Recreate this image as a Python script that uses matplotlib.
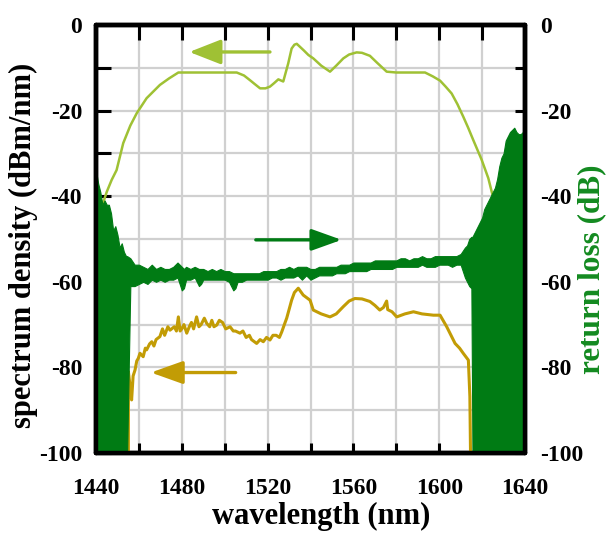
import matplotlib
matplotlib.use("Agg")
import matplotlib.pyplot as plt
import numpy as np

# ---------------- data ----------------
# upper spectrum (left axis, dBm/nm) - light green
x_hi = [1442.7, 1445, 1447.3, 1449.6, 1452.7, 1456, 1459, 1463.6, 1469.8, 1474,
        1478.4, 1485, 1495, 1505.6, 1509, 1511.8, 1514, 1516.5, 1519, 1521.1,
        1523, 1525, 1527.3, 1528.5, 1529.6, 1531.2, 1532.5, 1533.6, 1535.1, 1537,
        1539, 1541.3, 1545, 1549.1, 1552, 1555.3, 1558, 1561.5, 1564, 1567.7,
        1571, 1575.5, 1580, 1590, 1593.4, 1597, 1600.4, 1603, 1605.8, 1608.5,
        1611.2, 1613.5, 1615.9, 1619.8, 1622.9, 1625]
y_hi = [-42.5, -39, -36.2, -33.9, -27.6, -23.5, -20.6, -17.1, -14.0, -12.5,
        -11.1, -11.1, -11.1, -11.1, -11.8, -12.9, -13.8, -14.8, -14.8, -14.4,
        -13.6, -12.7, -13.2, -11.0, -9.0, -5.5, -4.6, -4.4, -5.1, -6.0,
        -7.0, -7.8, -9.5, -10.9, -9.5, -7.8, -6.9, -6.4, -6.5, -7.2,
        -8.8, -10.9, -11.1, -11.1, -11.1, -12.0, -13.0, -14.4, -16.0, -18.5,
        -21.4, -24.0, -26.9, -31.5, -35.8, -40.0]

# lower spectrum (left axis, dBm/nm) - golden
x_lo = [1455.1, 1455.1, 1455.8, 1456.6, 1457.3, 1458.2, 1459.0, 1459.7, 1460.5, 1462,
        1463.0, 1463.6, 1465, 1466, 1467, 1468, 1469.8, 1471, 1472, 1473.5,
        1474.5, 1476.5, 1477.5, 1478.4, 1479.2, 1480, 1481, 1482.3, 1483.5, 1484.5,
        1485.5, 1486.9, 1488, 1489, 1490.5, 1491.6, 1493, 1494, 1495, 1496.3,
        1497.5, 1499, 1500.5, 1502.5, 1504, 1505, 1507.1, 1508.5, 1510, 1511.5,
        1512.5, 1514.9, 1516.5, 1518, 1519.5, 1521.1, 1522.5, 1524, 1525.5, 1526.6,
        1527.8, 1528.9, 1530, 1531.2, 1532.5, 1534.3, 1536.6, 1539.8, 1541.3, 1545,
        1549.1, 1552, 1555.3, 1558, 1560.7, 1564, 1567.7, 1570, 1572.3, 1574,
        1575.5, 1576, 1578, 1580.2, 1584, 1588, 1592, 1597.3, 1600.4, 1603.5,
        1605.5, 1607.4, 1609.5, 1611.2, 1613.6, 1614.3, 1614.6]
y_lo = [-100, -81, -84, -87.6, -82, -80.6, -78.5, -77.9, -76.7, -77.5,
        -75.5, -75.9, -74.5, -74, -75, -73.5, -72.8, -71, -72.5, -70.5,
        -71.3, -70.5, -71.5, -68.2, -71.5, -71, -70, -72, -70.5, -69.5,
        -71, -68.2, -70.5, -70, -68.5, -69.7, -70.5, -69.0, -70.5, -70.1,
        -69, -69.5, -71, -70.5, -71.5, -71.5, -72, -71.5, -73, -72.5,
        -73.5, -74.4, -73.5, -74, -73, -73.6, -72.5, -72.5, -73, -71.7,
        -70, -68.5, -66.5, -64.3, -62.5, -61.5, -63.1, -64.3, -66.6, -67.5,
        -68.2, -67.5, -65.8, -64.5, -63.9, -64.0, -64.6, -65.5, -66.6, -66,
        -64.5, -66.5, -67, -68.2, -67.5, -67, -67.5, -67.8, -67.8, -70.5,
        -72.5, -74.4, -75.5, -76.7, -78.3, -86.8, -100]

# return loss (right axis, dB) - dark green, upper / lower envelope of the trace
x_rl = [1440, 1441, 1442, 1443, 1444, 1445, 1446, 1447, 1448, 1449,
        1450, 1451, 1452, 1453, 1454, 1454.5, 1456, 1458, 1460, 1462,
        1464, 1466, 1468, 1470, 1472, 1474, 1476, 1478, 1480, 1481,
        1482, 1484, 1486, 1488, 1489, 1490, 1492, 1494, 1496, 1498,
        1500, 1502, 1504, 1505, 1506, 1508, 1510, 1512, 1514, 1516,
        1518, 1520, 1522, 1524, 1526, 1528, 1530, 1532, 1534, 1536,
        1538, 1540, 1542, 1544, 1546, 1548, 1550, 1552, 1554, 1556,
        1558, 1560, 1562, 1564, 1566, 1568, 1570, 1572, 1574, 1576,
        1578, 1580, 1582, 1584, 1586, 1588, 1590, 1592, 1594, 1596,
        1598, 1600, 1602, 1604, 1606, 1608, 1610, 1612, 1613, 1614,
        1615, 1615.5, 1616, 1617, 1618, 1619, 1620, 1621, 1622, 1623,
        1624, 1625, 1626, 1627, 1628, 1629, 1630, 1631, 1632, 1633,
        1634, 1635, 1636, 1637, 1638, 1639, 1640]
rl_upper = [-34, -37, -39, -42, -41, -42, -42, -44, -48, -47,
            -49, -52, -51, -53, -54, -54, -54.5, -56, -56, -56.5,
            -57, -56, -57, -56.5, -57, -57, -56.5, -55.5, -56.5, -57,
            -56.5, -57, -56.5, -57, -57, -57, -57.5, -57, -57.5, -57,
            -57.5, -57.5, -58, -58, -58, -58, -58, -58, -58, -58,
            -57.5, -57.5, -57.5, -57.5, -57, -57, -56.5, -57, -56.5, -56.5,
            -56.5, -57, -57, -56.5, -56.5, -56.5, -56.5, -56.5, -56, -56,
            -56, -55.5, -55.5, -55.5, -55.5, -55.5, -55, -55, -55, -55,
            -55, -55, -54.5, -54.5, -55, -54.5, -54.5, -54, -54.5, -54.5,
            -54, -54, -54, -54, -54, -54, -53.5, -52, -51.5, -50,
            -49.5, -49.5, -49, -48, -47, -46, -45, -43, -42, -41,
            -40, -39, -38, -36, -33, -31, -30, -27, -26, -25,
            -24.5, -24, -25, -25.5, -25.5, -25, -25]
rl_lower = [-100, -100, -100, -100, -100, -100, -100, -100, -100, -100,
            -100, -100, -100, -100, -100, -100, -61, -61, -60.5, -60,
            -60.5, -59.5, -60, -59.5, -60, -59.5, -59.5, -59, -62, -61.5,
            -59.5, -59.5, -59, -61, -60.5, -59.5, -59.5, -59.5, -59.5, -59.5,
            -59.5, -60, -62, -61.5, -60, -60, -59.5, -59.5, -59.5, -59.5,
            -59.5, -59.5, -59, -59, -59.5, -59, -59, -59, -58.5, -59.5,
            -58.5, -59.5, -59, -58.5, -58.5, -58.5, -58.5, -58, -58, -58,
            -57.5, -57.5, -57.5, -57.5, -57.5, -57, -57, -57, -57, -57,
            -57, -56.5, -56.5, -56.5, -56.5, -56.5, -56.5, -56, -56.5, -56.5,
            -56.5, -56, -56, -56, -56.5, -56, -56, -59, -60, -61,
            -61.5, -100, -100, -100, -100, -100, -100, -100, -100, -100,
            -100, -100, -100, -100, -100, -100, -100, -100, -100, -100,
            -100, -100, -100, -100, -100, -100, -100]

x_ticks = [1440, 1460, 1480, 1500, 1520, 1540, 1560, 1580, 1600, 1620, 1640]
x_ticklabels = ['1440', '', '1480', '', '1520', '', '1560', '', '1600', '', '1640']
y_ticks = [-100, -90, -80, -70, -60, -50, -40, -30, -20, -10, 0]
y_ticklabels = ['-100', '', '-80', '', '-60', '', '-40', '', '-20', '', '0']

# ---------------- style ----------------
C_HI = '#9fc134'
C_LO = '#c29c05'
C_RL = '#007b14'
C_RL_LABEL = '#138a20'
FONT = 'Liberation Serif'

plt.rcParams['font.family'] = [FONT, 'DejaVu Serif']
plt.rcParams['font.weight'] = 'bold'

fig = plt.figure(figsize=(6.07, 5.35), dpi=100)
fig.subplots_adjust(left=96/607, right=525/607, bottom=1-453/535, top=1-25/535)
ax = fig.add_subplot(111)
ax2 = ax.twinx()

for a in (ax, ax2):
    a.set_xlim(1440, 1640)
    a.set_ylim(-100, 0)

ax.set_xticks(x_ticks)
ax.set_xticklabels(x_ticklabels)
ax.set_yticks(y_ticks)
ax.set_yticklabels(y_ticklabels)
ax2.set_yticks(y_ticks)
ax2.set_yticklabels(y_ticklabels)

ax.grid(True, color='#d0d0d0', lw=1.6, zorder=0)
ax.set_axisbelow(True)

ax.tick_params(axis='y', direction='in', length=11, width=2.2, labelsize=17, pad=10)
ax.tick_params(axis='x', direction='in', length=7.5, width=2.2, labelsize=17, pad=18,
               top=True)
ax2.tick_params(axis='y', direction='in', length=7.5, width=2.2, labelsize=17, pad=11)
for t in ax.xaxis.get_major_ticks():
    t.tick2line.set_markersize(11)

for a in (ax, ax2):
    for s in a.spines.values():
        s.set_linewidth(3.2)
        s.set_capstyle('round')

# curves
ax.plot(x_hi, y_hi, color=C_HI, lw=1.8, zorder=3)
ax.plot(x_lo, y_lo, color=C_LO, lw=2.2, zorder=3)
ax2.fill_between(x_rl, rl_lower, rl_upper, color=C_RL, lw=0.8,
                 edgecolor=C_RL, zorder=2)

# arrows
def arrow(a, tip, tail, color, hl, hw, lw):
    a.annotate('', xy=tip, xytext=tail,
               arrowprops=dict(arrowstyle=f'-|>,head_length={hl},head_width={hw}',
                               color=color, lw=lw, shrinkA=0, shrinkB=0,
                               mutation_scale=20))

arrow(ax, (1483.5, -6.3), (1521.1, -6.3), C_HI, 0.97, 0.38, 2.4)
arrow(ax2, (1554.5, -50.2), (1514.5, -50.2), C_RL, 0.92, 0.33, 2.4)
arrow(ax, (1465.6, -81.2), (1505.1, -81.2), C_LO, 0.98, 0.35, 2.4)

# labels
ax.set_xlabel('wavelength (nm)', fontsize=22, fontweight='bold', labelpad=7)
ax.xaxis.set_label_coords(0.524, -0.115)
ax.xaxis.label.set_verticalalignment('top')
ax.set_ylabel('spectrum density (dBm/nm)', fontsize=22, fontweight='bold')
ax.yaxis.set_label_coords(-0.135, 0.484)
ax2.set_ylabel('return loss (dB)', fontsize=22.5, fontweight='bold', color=C_RL_LABEL,
               rotation=90)
ax2.yaxis.set_label_coords(1.121, 0.43)

fig.savefig('out.png', dpi=100)
